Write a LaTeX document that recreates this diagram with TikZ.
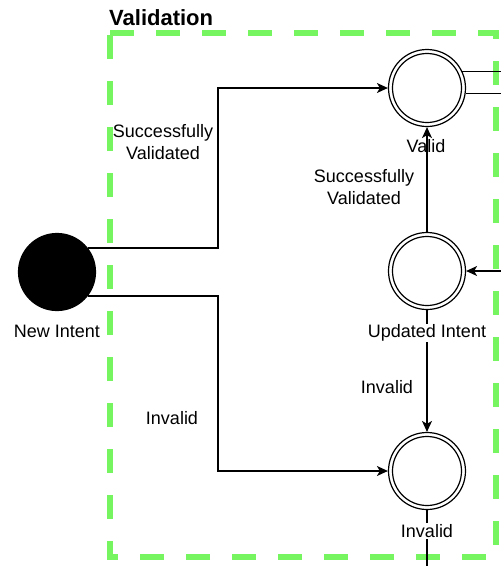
\documentclass[tikz,border=0pt]{standalone}
\usepackage{fontspec}
\setmainfont{Liberation Sans}
\usetikzlibrary{arrows.meta}
\definecolor{groupgreen}{RGB}{119,245,97}
\begin{document}
\begin{tikzpicture}[x=1pt,y=-1pt,
  state/.style={circle, draw, line width=1.2pt, minimum size=77pt, inner sep=0pt},
  lbl/.style={font=\fontsize{18}{22}\selectfont, align=center, inner sep=1pt},
  flow/.style={line width=1.2pt, -{Stealth[length=11pt,width=10pt,inset=3pt]}},
  link/.style={line width=1.2pt},
]
\useasboundingbox (0,0) rectangle (501,566);
\clip (0,0) rectangle (501,566);

% group frame
\draw[groupgreen, line width=6pt, dash pattern=on 24pt off 22pt]
  (110,33) -- (496,33) -- (496,557) -- (110,557) -- cycle;
\node[font=\bfseries\fontsize{22}{26}\selectfont, anchor=west, inner sep=0pt] (title) at (109,18) {Validation};

% states
\node[state, fill=black] (ni) at (57,272) {};
\node[state] (valid) at (427,88) {};
\node[state] (upd) at (427,271) {};
\node[state] (inv) at (427,471) {};
\foreach \n in {valid,upd,inv}
  \draw[line width=1.2pt] (\n.center) circle (34.5);

% helper points
\coordinate (bendA) at (218,88);
\coordinate (bendB) at (218,471);
\coordinate (rightIn) at (515,271);
\coordinate (outA) at (515,72);
\coordinate (downOut) at (427,580);

% transitions
\draw[flow] (ni.38) -| (bendA) -- (valid.west);
\draw[flow] (ni.-38) -| (bendB) -- (inv.west);
\draw[flow] (upd.north) -- (valid.south);
\draw[flow] (upd.south) -- (inv.north);
\draw[flow] (rightIn) -- (upd.east);
\draw[link] (valid.25) -- (valid.25 -| outA);
\draw[link] (valid.-8) -- (valid.-8 -| outA);
\draw[link] (inv.south) -- (downOut);

% state labels
\node[lbl] (lvalid) at (426,146) {Valid};
\node[lbl, fill=white] (lupd) at (427,333) {Updated Intent};
\node[lbl, fill=white] (linv) at (427,531) {Invalid};
\node[lbl] (lni) at (57,331) {New Intent};

% transition labels
\node[lbl] (t1) at (163,142) {Successfully\\Validated};
\node[lbl] (t2) at (172,418) {Invalid};
\node[lbl] (t3) at (364,187) {Successfully\\Validated};
\node[lbl] (t4) at (387,387) {Invalid};
\end{tikzpicture}
\end{document}
